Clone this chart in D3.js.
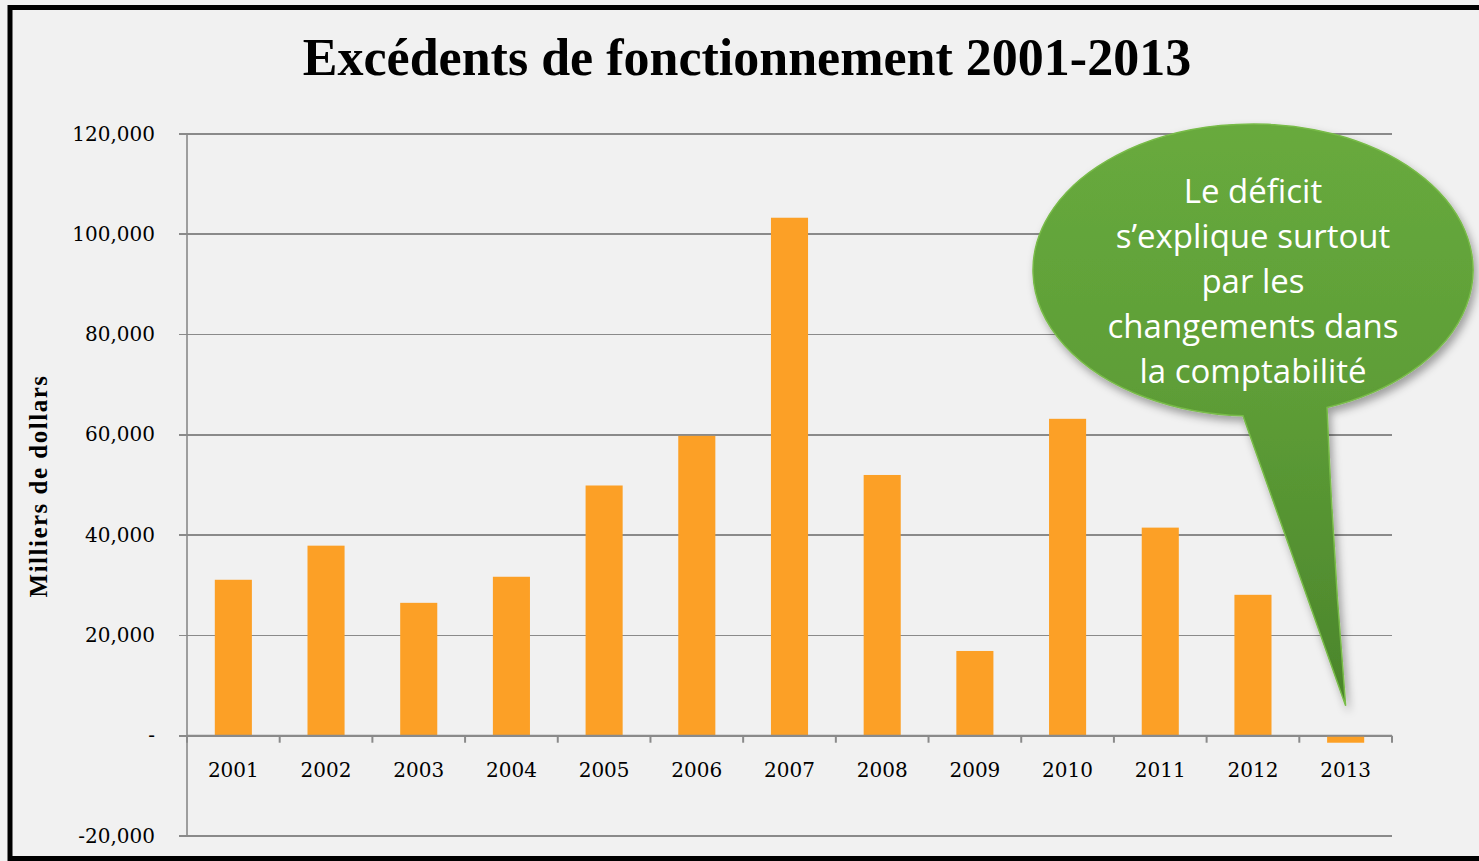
<!DOCTYPE html>
<html>
<head>
<meta charset="utf-8">
<script src="https://cdn.jsdelivr.net/npm/d3@7"></script>
<style>
    body { margin: 0; background: #f0f0f0; }
    text.title { font-family: "Liberation Serif", serif; font-weight: 700; font-size: 52px; fill: #000; }
    text.yTitle { font-family: "Liberation Serif", serif; font-weight: 700; font-size: 25px; letter-spacing: 1.5px; fill: #000; }
    .axis text { font-family: "DejaVu Serif", serif; font-size: 20px; fill: #000; }
    .axis path.domain { display: none; }
    .grid line { stroke: #8a8a8a; stroke-width: 1.6; shape-rendering: crispEdges; }
    text.bubble { font-family: "Open Sans", sans-serif; font-size: 33px; fill: #fff; }
</style>
</head>
<body>
<div id="chart"></div>
<script>
    // data
    var years = ["2001", "2002", "2003", "2004", "2005", "2006", "2007", "2008", "2009", "2010", "2011", "2012", "2013"];
    var surplus = [31100, 37900, 26500, 31700, 49900, 59800, 103300, 52000, 16900, 63200, 41500, 28100, -1400];
    var yTicks = [-20000, 0, 20000, 40000, 60000, 80000, 100000, 120000];
    var bubbleLines = ["Le déficit", "s’explique surtout", "par les", "changements dans", "la comptabilité"];

    var width = 1479, height = 861;
    var margin = { top: 134, right: 87, bottom: 25, left: 187 };

    var svg = d3.select("#chart").append("svg")
        .attr("width", width)
        .attr("height", height);

    var defs = svg.append("defs");
    var grad = defs.append("linearGradient")
        .attr("id", "greenGrad")
        .attr("x1", 0).attr("y1", 0).attr("x2", 0).attr("y2", 1);
    grad.append("stop").attr("offset", "0%").attr("stop-color", "#68aa3d");
    grad.append("stop").attr("offset", "45%").attr("stop-color", "#5e9e37");
    grad.append("stop").attr("offset", "100%").attr("stop-color", "#4b852b");

    var shadow = defs.append("filter").attr("id", "shadow")
        .attr("x", "-10%").attr("y", "-10%").attr("width", "130%").attr("height", "130%");
    shadow.append("feDropShadow")
        .attr("dx", 3).attr("dy", 5).attr("stdDeviation", 4)
        .attr("flood-color", "#000").attr("flood-opacity", 0.35);

    // background + frame
    svg.append("rect")
        .attr("width", width).attr("height", height)
        .attr("fill", "#f1f1f1");
    svg.append("rect")
        .attr("x", 10).attr("y", 7.5)
        .attr("width", width + 20).attr("height", 851)
        .attr("fill", "none")
        .attr("stroke", "#000")
        .attr("stroke-width", 5);

    var x = d3.scaleBand()
        .domain(years)
        .range([margin.left, width - margin.right])
        .paddingInner(0)
        .paddingOuter(0);

    var y = d3.scaleLinear()
        .domain([-20000, 120000])
        .range([height - margin.bottom, margin.top]);

    // grid lines
    svg.append("g")
        .attr("class", "grid")
        .selectAll("line")
        .data(yTicks)
        .enter()
        .append("line")
        .attr("x1", margin.left - 8)
        .attr("x2", width - margin.right)
        .attr("y1", d => y(d))
        .attr("y2", d => y(d));

    // y axis, Excel style: zero shown as a dash, plain hyphen for negatives
    var yAxis = d3.axisLeft(y)
        .tickValues(yTicks)
        .tickSize(0)
        .tickPadding(32)
        .tickFormat(d => d == 0 ? "-" : d3.format(",")(d).replace("−", "-"));

    svg.append("g")
        .attr("class", "axis yAxis")
        .attr("transform", `translate(${margin.left}, 0)`)
        .call(yAxis)
        .selectAll("text")
        .attr("dy", "0.3em");

    svg.append("line")
        .attr("x1", margin.left).attr("x2", margin.left)
        .attr("y1", y(120000)).attr("y2", y(-20000))
        .attr("stroke", "#8a8a8a").attr("stroke-width", 1.6);

    // bars
    var barW = x.bandwidth() * 0.4;
    svg.selectAll("rect.bar")
        .data(years)
        .enter()
        .append("rect")
        .attr("class", "bar")
        .attr("x", d => x(d) + (x.bandwidth() - barW) / 2)
        .attr("width", barW)
        .attr("y", (d, i) => y(Math.max(0, surplus[i])))
        .attr("height", (d, i) => Math.abs(y(surplus[i]) - y(0)))
        .attr("fill", "#fca026");

    // x axis at zero
    var xAxis = d3.axisBottom(x).tickSize(0).tickPadding(30);
    var gx = svg.append("g")
        .attr("class", "axis xAxis")
        .attr("transform", `translate(0, ${y(0)})`)
        .call(xAxis);
    gx.selectAll("text").attr("dy", "0.55em");

    svg.append("line")
        .attr("x1", margin.left).attr("x2", width - margin.right)
        .attr("y1", y(0)).attr("y2", y(0))
        .attr("stroke", "#8a8a8a").attr("stroke-width", 2);

    var bounds = years.map(d => x(d)).concat([width - margin.right]);
    svg.selectAll("line.xtick")
        .data(bounds)
        .enter()
        .append("line")
        .attr("class", "xtick")
        .attr("x1", d => d).attr("x2", d => d)
        .attr("y1", y(0)).attr("y2", y(0) + 7)
        .attr("stroke", "#8a8a8a").attr("stroke-width", 2);

    // titles
    svg.append("text")
        .attr("class", "title")
        .attr("x", 747).attr("y", 75)
        .style("text-anchor", "middle")
        .text("Excédents de fonctionnement 2001-2013");

    svg.append("text")
        .attr("class", "yTitle")
        .attr("transform", "translate(47, 486) rotate(-90)")
        .style("text-anchor", "middle")
        .text("Milliers de dollars");

    // speech bubble pointing to 2013
    var cx = 1253, cy = 270, rx = 220, ry = 146;
    var tipX = x("2013") + x.bandwidth() / 2, tipY = y(0) - 30;
    var lx = 1243, rxp = 1327;
    var ly = cy + ry * Math.sqrt(1 - Math.pow((lx - cx) / rx, 2));
    var ry2 = cy + ry * Math.sqrt(1 - Math.pow((rxp - cx) / rx, 2));
    var bubbleD = `M${rxp},${ry2} A${rx},${ry} 0 1 0 ${lx},${ly} L${tipX},${tipY} Q${rxp + 6},${(ry2 + tipY) / 2} ${rxp},${ry2} Z`;

    svg.append("path")
        .attr("d", bubbleD)
        .attr("fill", "url(#greenGrad)")
        .attr("stroke", "#78bb48")
        .attr("stroke-width", 1.5)
        .attr("filter", "url(#shadow)");

    svg.selectAll("text.bubble")
        .data(bubbleLines)
        .enter()
        .append("text")
        .attr("class", "bubble")
        .attr("x", cx)
        .attr("y", (d, i) => 203 + i * 45)
        .style("text-anchor", "middle")
        .text(d => d);
</script>
</body>
</html>
